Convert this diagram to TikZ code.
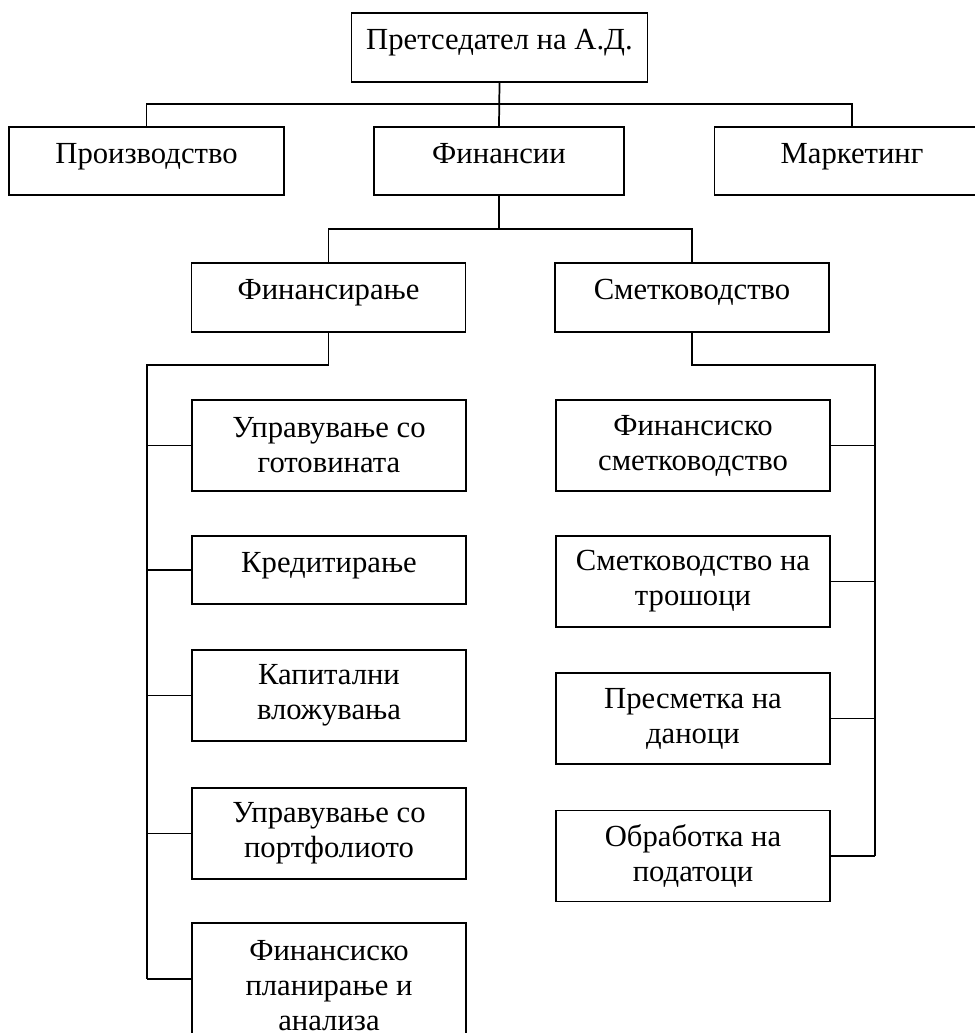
\documentclass[tikz,border=0pt]{standalone}
\usepackage{fontspec}
\setmainfont{Liberation Serif}
\newcommand\boxfont{\fontsize{23}{26.25}\selectfont}
\tikzset{
  box/.style={draw, line width=1.3pt, inner sep=0pt, align=center, font=\boxfont},
  one/.style={minimum height=51pt, text height=12pt, text depth=9pt},
  two/.style={minimum height=68.25pt},
  three/.style={minimum height=84pt, text height=77pt},
  col/.style={minimum width=205.5pt},
  link/.style={line width=1.3pt}
}

\begin{document}
\begin{tikzpicture}[x=0.75pt,y=-0.75pt]
\useasboundingbox (0,0) rectangle (975,1033);
\clip (0,0) rectangle (975,1033);

\node[box,one,minimum width=222pt,minimum height=51.75pt] (pres) at (499.5,47.5) {Претседател на А.Д.};
\node[box,one,minimum width=206.25pt] (proiz) at (146.5,161) {Производство};
\node[box,one,minimum width=187.5pt] (fin) at (499,161) {Финансии};
\node[box,one,minimum width=206.25pt] (mark) at (852,161) {Маркетинг};

\node[box,one,col,minimum height=51.75pt] (finr) at (328.5,297.5) {Финансирање};
\node[box,one,col,minimum height=51.75pt] (smet) at (692,297.5) {Сметководство};

% left column
\node[box,col,two] (l1) at (329,445.5) {Управување со\\готовината};
\node[box,col,one] (l2) at (329,570) {Кредитирање};
\node[box,col,two] (l3) at (329,695.5) {Капитални\\вложувања};
\node[box,col,two] (l4) at (329,833.5) {Управување со\\портфолиото};
\node[box,col,three] (l5) at (329,979) {Финансиско\\планирање и\\анализа};

% right column
\node[box,col,two] (r1) at (693,445.5) {Финансиско\\сметководство};
\node[box,col,two] (r2) at (693,581.5) {Сметководство на\\трошоци};
\node[box,col,two] (r3) at (693,718.5) {Пресметка на\\даноци};
\node[box,col,two] (r4) at (693,856) {Обработка на\\податоци};

\coordinate (bus1) at (499.5,104);
\coordinate (bus2) at (499,229);
\coordinate (lbus) at (147,365);
\coordinate (rbus) at (875,365);

\draw[link] (pres.south) -- (fin.north);
\draw[link] (proiz.north) |- (bus1) -| (mark.north);
\draw[link] (fin.south) -- (bus2);
\draw[link] (finr.north) |- (bus2) -| (smet.north);

\draw[link] (finr.south) |- (lbus) -- (lbus |- l5.west);
\foreach \n in {l1,l2,l3,l4,l5}
  \draw[link] (\n.west) -- (\n.west -| lbus);

\draw[link] (smet.south) |- (rbus) -- (rbus |- r4.east);
\foreach \n in {r1,r2,r3,r4}
  \draw[link] (\n.east) -- (\n.east -| rbus);
\end{tikzpicture}
\end{document}
